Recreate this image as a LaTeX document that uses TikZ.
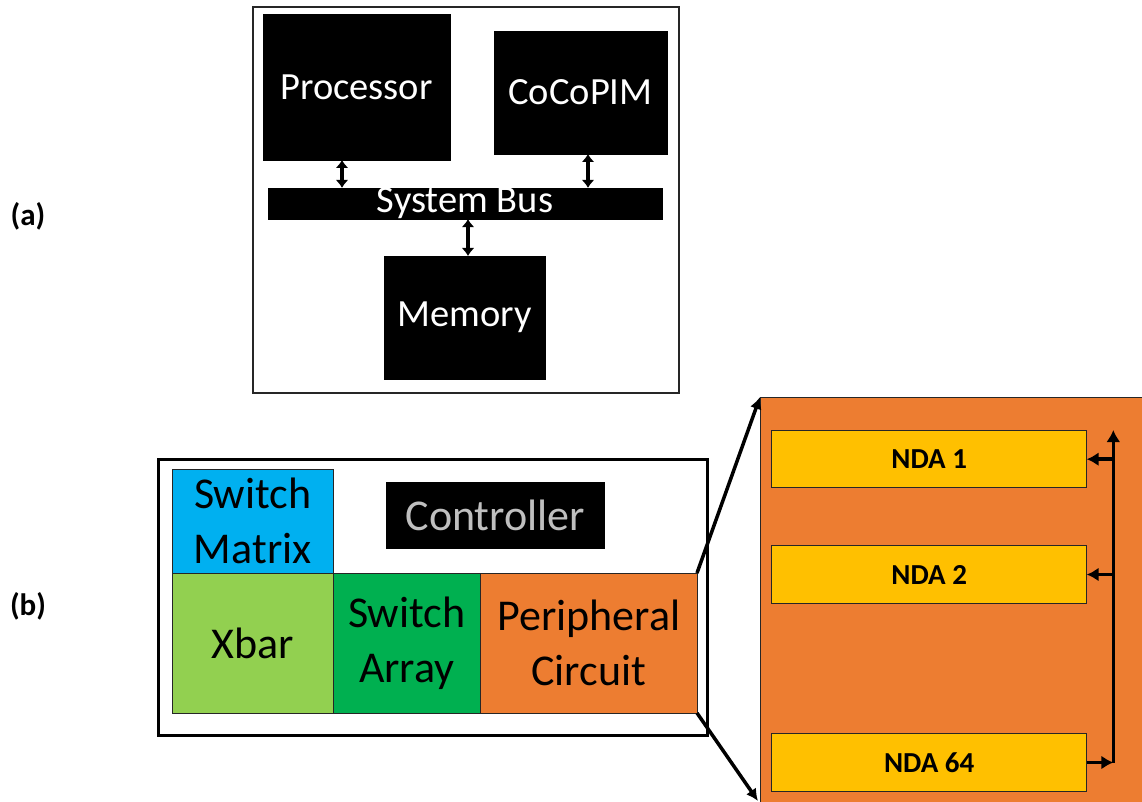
\documentclass[tikz,border=0pt]{standalone}
\usepackage{fontspec}
\setmainfont{Carlito}
\usetikzlibrary{arrows.meta}

\definecolor{swblue}{HTML}{00B0F0}
\definecolor{xgreen}{HTML}{92D050}
\definecolor{sagreen}{HTML}{00B050}
\definecolor{porange}{HTML}{ED7D31}
\definecolor{ndayellow}{HTML}{FFC000}
\definecolor{ctrlgray}{HTML}{BFBFBF}
\definecolor{edge}{HTML}{262626}

\tikzset{
  blk/.style={fill=black, draw=black, inner sep=0pt, outer sep=0pt, text=white,
              font=\fontsize{38.5}{46}\selectfont},
  cell/.style={draw=edge, line width=1pt, inner sep=0pt, outer sep=0pt, align=center,
               font=\fontsize{44}{55}\selectfont},
  ndabox/.style={fill=ndayellow, draw=edge, line width=1pt, inner sep=0pt, outer sep=0pt,
                 font=\fontsize{29}{34}\selectfont\bfseries},
  dbl/.style={line width=4pt, {Latex[length=8pt,width=13pt]}-{Latex[length=8pt,width=13pt]}},
  busarrow/.style={line width=3.5pt, -{Latex[length=12pt,width=14pt]}},
  zoomline/.style={line width=3.5pt, -{Latex[length=12pt,width=12pt]}},
  tag/.style={font=\fontsize{31}{36}\selectfont\bfseries}
}

\begin{document}
\begin{tikzpicture}[x=1pt, y=-1pt]
\useasboundingbox (0,0) rectangle (1142,802);

% ---------- (a) system overview ----------
\node[tag] (la) at (28,216) {(a)};
\node[draw=edge, line width=1.5pt, minimum width=426pt, minimum height=386pt, inner sep=0pt] (sys) at (466,200) {};
\node[blk, minimum width=187pt, minimum height=146pt] (proc) at (356.5,87) {Processor};
\node[blk, minimum width=173pt, minimum height=123pt] (pim) at (580.5,92.5) {CoCoPIM};
\node[blk, minimum width=394pt, minimum height=29pt] (bus) at (465,203.5) {\raisebox{-4pt}{System Bus}};
\node[blk, minimum width=161pt, minimum height=123pt] (mem) at (464.5,317.5) {Memory};

\draw[dbl] ([xshift=-14.5pt]proc.south) -- ([xshift=-14.5pt]proc.south |- bus.north);
\draw[dbl] ([xshift=7.5pt]pim.south) -- ([xshift=7.5pt]pim.south |- bus.north);
\draw[dbl] ([xshift=3.5pt]mem.north) -- ([xshift=3.5pt]mem.north |- bus.south);

% ---------- (b) CoCoPIM tile ----------
\node[tag] (lb) at (28,606) {(b)};
\node[draw=black, line width=3pt, minimum width=549.5pt, minimum height=276pt, inner sep=0pt] (tile) at (432.75,597) {};
\node[cell, fill=swblue, minimum width=160.5pt, minimum height=104pt] (swm) at (252.75,521) {Switch\\Matrix};
\node[fill=black, inner sep=0pt, minimum width=218.5pt, minimum height=67pt, text=ctrlgray,
      font=\fontsize{44}{55}\selectfont] (ctrl) at (495.25,515.5) {Controller};
\node[cell, fill=xgreen, minimum width=160.5pt, minimum height=140pt] (xbar) at (252.75,643) {Xbar};
\node[cell, fill=sagreen, minimum width=147.5pt, minimum height=140pt] (swa) at (406.75,643) {Switch\\Array};
\node[cell, fill=porange, minimum width=216.5pt, minimum height=140pt] (peri) at (588.75,643) {Peripheral\\Circuit};

% ---------- peripheral circuit detail ----------
\node[fill=porange, draw=edge, line width=1pt, minimum width=390pt, minimum height=413pt, inner sep=0pt, outer sep=0pt] (detail) at (955,603.5) {};
\coordinate (dtop) at (760,397);
\coordinate (dbot) at (758,801);
\draw[zoomline] (peri.north east) -- (dtop);
\draw[zoomline] (peri.south east) -- (dbot);

\node[ndabox, minimum width=315pt, minimum height=57pt] (nda1) at (929.2,459.2) {NDA 1};
\node[ndabox, minimum width=315pt, minimum height=57.6pt] (nda2) at (929.2,574.5) {NDA 2};
\node[ndabox, minimum width=315pt, minimum height=58.4pt] (nda64) at (929.2,762.5) {NDA 64};

\coordinate (btop) at (1113.3,430);
\coordinate (bbot) at (1113.3,762.5);
\draw[busarrow] (bbot) -- (btop);
\draw[busarrow] (nda1.east -| btop) -- (nda1.east);
\draw[busarrow] (nda2.east -| btop) -- (nda2.east);
\draw[busarrow] (nda64.east) -- (nda64.east -| bbot);
\end{tikzpicture}
\end{document}
